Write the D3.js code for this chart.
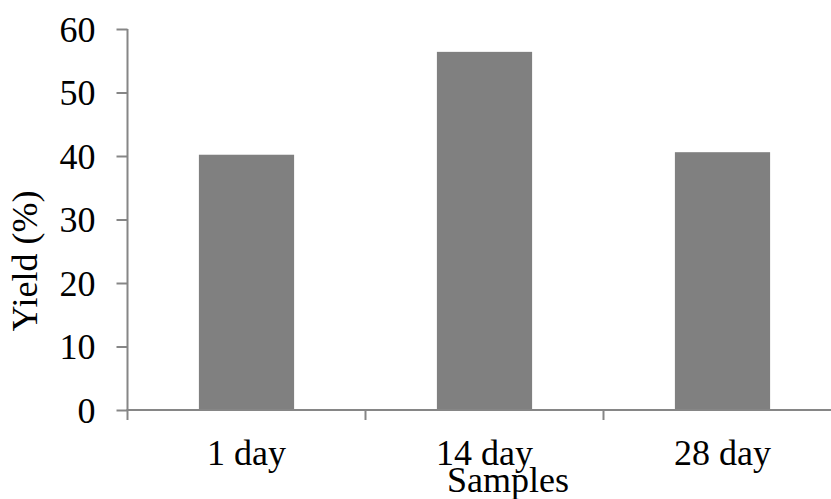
<!DOCTYPE html>
<html>
<head>
<meta charset="utf-8">
<script src="https://d3js.org/d3.v7.min.js"></script>
<style>
  html, body { margin: 0; padding: 0; background: #fff; }
  svg text { font-family: "Liberation Serif", "Times New Roman", serif; fill: #000; }
</style>
</head>
<body>
<svg id="chart" width="831" height="499"></svg>
<script>
const categories = ["1 day", "14 day", "28 day"];
const values = [40.2, 56.4, 40.6];
const yTicks = [0, 10, 20, 30, 40, 50, 60];
const xTitle = "Samples";
const yTitle = "Yield (%)";

(function () {
const svg = d3.select("#chart");
const mLeft = 127.5, mRight = 841.5, mTop = 29, mBottom = 410;
const fs = 36;

const x = d3.scaleBand().domain(categories).range([mLeft, mRight]).paddingInner(0.6).paddingOuter(0.3);
const xOuter = d3.scaleBand().domain(categories).range([mLeft, mRight]).padding(0);
const y = d3.scaleLinear().domain([0, 60]).range([mBottom, mTop]);

// bars
svg.append("g").selectAll("rect").data(categories).join("rect")
  .attr("x", d => x(d))
  .attr("y", (d, i) => y(values[i]))
  .attr("width", x.bandwidth())
  .attr("height", (d, i) => y(0) - y(values[i]))
  .attr("fill", "#808080");

const axisColor = "#868686";

// y axis
const yAxis = svg.append("g").attr("transform", `translate(${mLeft},0)`)
  .call(d3.axisLeft(y).tickValues(yTicks).tickSize(11).tickPadding(21).tickFormat(d3.format("d")));
yAxis.select(".domain").attr("stroke", axisColor).attr("stroke-width", 2).attr("d", `M0,${mTop}V${mBottom}`);
yAxis.selectAll(".tick line").attr("stroke", axisColor).attr("stroke-width", 2);
yAxis.selectAll(".tick text").attr("font-size", fs).attr("dy", "0.34em");

// x axis
const xAxis = svg.append("g").attr("transform", `translate(0,${mBottom})`);
xAxis.append("line").attr("x1", mLeft - 1).attr("x2", mRight).attr("y1", 0).attr("y2", 0)
  .attr("stroke", axisColor).attr("stroke-width", 2);
const boundaries = categories.map(c => xOuter(c)).concat([mRight]);
xAxis.selectAll("line.tk").data(boundaries).join("line").attr("class", "tk")
  .attr("x1", d => d).attr("x2", d => d).attr("y1", 0).attr("y2", 10)
  .attr("stroke", axisColor).attr("stroke-width", 2);
xAxis.selectAll("text.lbl").data(categories).join("text").attr("class", "lbl")
  .attr("x", d => xOuter(d) + xOuter.bandwidth() / 2)
  .attr("y", 55)
  .attr("text-anchor", "middle")
  .attr("font-size", fs)
  .text(d => d);

// titles
svg.append("text").attr("x", 508).attr("y", 492)
  .attr("text-anchor", "middle").attr("font-size", fs).text(xTitle);
svg.append("text").attr("transform", `translate(37,261) rotate(-90)`)
  .attr("text-anchor", "middle").attr("font-size", fs).text(yTitle);
})();
</script>
</body>
</html>
